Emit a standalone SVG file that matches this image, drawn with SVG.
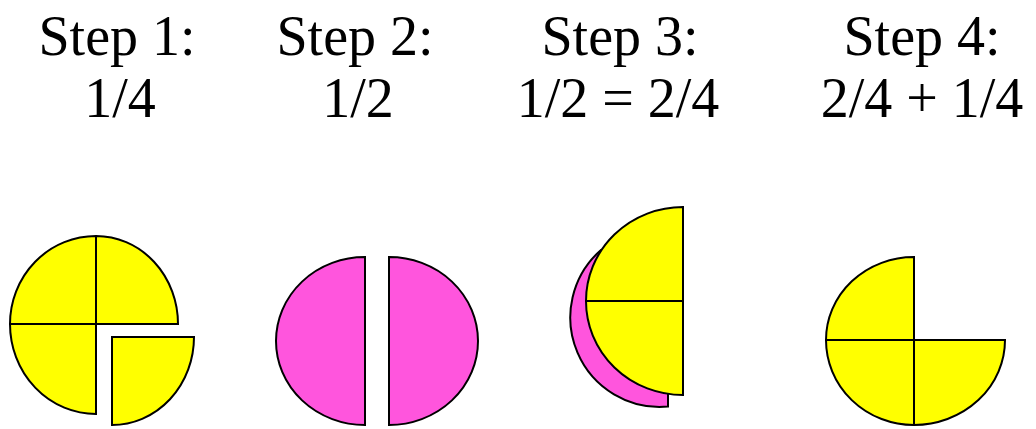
<svg xmlns="http://www.w3.org/2000/svg" width="1036" height="429" viewBox="0 0 1036 429">
<style>
.t{font-family:"Liberation Serif","Times New Roman",serif;font-size:56px;fill:#000;text-anchor:middle}
.y{fill:#ffff00;stroke:#000;stroke-width:2;stroke-linejoin:miter}
.p{fill:#ff55dd;stroke:#000;stroke-width:2;stroke-linejoin:miter}
</style>
<rect width="1036" height="429" fill="#fff"/>
<g id="step1">
<text class="t" x="117" y="55">Step 1:</text>
<text class="t" x="120" y="117">1/4</text>
<path class="y" d="M96,324 L96,236 A86 88 0 0 0 10,324 Z"/>
<path class="y" d="M96,324 L178,324 A82 88 0 0 0 96,236 Z"/>
<path class="y" d="M96,324 L10,324 A86 90 0 0 0 96,414 Z"/>
<path class="y" d="M112,337 L112,425 A82 88 0 0 0 194,337 Z"/>
</g>
<g id="step2">
<text class="t" x="355" y="55">Step 2:</text>
<text class="t" x="358" y="117">1/2</text>
<path class="p" d="M365,257 L365,425 A89 84 0 0 1 365,257 Z"/>
<path class="p" d="M389,257 L389,425 A89 84 0 0 0 389,257 Z"/>
</g>
<g id="step3">
<text class="t" x="620" y="55">Step 3:</text>
<text class="t" x="618" y="117">1/2 = 2/4</text>
<path class="p" d="M650,300 L601,250 A89.5 89.5 0 0 0 668,406.6 L668,393 Z"/>
<path class="y" d="M683,301 L683,207 A97 94 0 0 0 586,301 Z"/>
<path class="y" d="M683,301 L586,301 A97 94 0 0 0 683,395 Z"/>
</g>
<g id="step4">
<text class="t" x="922" y="55">Step 4:</text>
<text class="t" x="922" y="117">2/4 + 1/4</text>
<path class="y" d="M914,340 L914,257 A88 83 0 0 0 826,340 Z"/>
<path class="y" d="M914,340 L826,340 A88 85 0 0 0 914,425 Z"/>
<path class="y" d="M914,340 L914,425 A91 85 0 0 0 1005,340 Z"/>
</g>
<g id="connectors"></g>
</svg>
